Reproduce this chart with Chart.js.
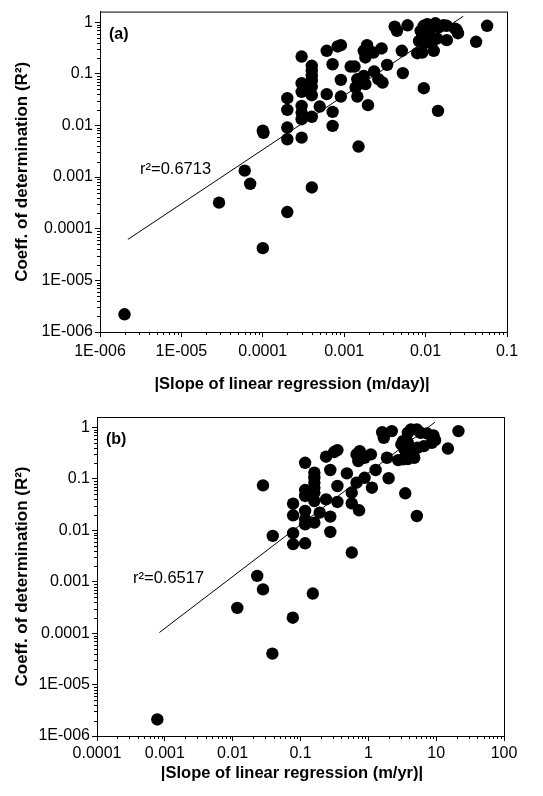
<!DOCTYPE html>
<html>
<head>
<meta charset="utf-8">
<script src="https://cdn.jsdelivr.net/npm/chart.js@4"></script>
<style>
  body { margin: 0; background: #fff; }
  canvas { position: absolute; left: 0; }
</style>
</head>
<body>
<canvas id="chartA" width="543" height="398" style="top:0"></canvas>
<canvas id="chartB" width="543" height="398" style="top:398px"></canvas>
<script>
// panel (a): |slope| in m/day vs R2
const slopeDay = [2.0e-6, 1.0e-4, 2.0e-4, 2.9e-5, 7.0e-5, 6.0e-5, 4.0e-4, 1.5e-3, 1.0e-4, 1.02e-4,
  2.0e-4, 2.0e-4, 2.0e-4, 2.0e-4, 3.0e-4, 3.0e-4, 3.0e-4, 3.0e-4, 3.0e-4, 3.0e-4,
  3.0e-4, 4.0e-4, 4.0e-4, 4.0e-4, 4.0e-4, 4.0e-4, 4.0e-4, 4.0e-4, 5.0e-4, 6.1e-4,
  6.1e-4, 7.2e-4, 7.2e-4, 7.2e-4, 8.3e-4, 9.1e-4, 9.1e-4, 9.1e-4, 1.2e-3, 1.34e-3,
  1.45e-3, 1.38e-3, 1.45e-3, 1.74e-3, 1.82e-3, 1.96e-3, 1.91e-3, 1.74e-3, 1.82e-3, 2.29e-3,
  2.88e-3, 2.33e-3, 2.63e-3, 2.96e-3, 3.37e-3, 4.17e-3, 4.45e-3, 6.0e-3, 5.1e-3, 5.25e-3,
  7.9e-3, 9.1e-3, 9.5e-3, 0.0126, 0.0142, 0.0182, 0.0417, 0.057, 8.7e-3, 9.1e-3,
  9.5e-3, 0.0105, 0.011, 0.012, 0.0132, 0.0145, 0.0166, 0.0182, 0.023, 0.025,
  0.024, 8.3e-3, 0.010, 0.012, 0.0138];
const r2Day = [2.2e-6, 4.2e-5, 2.1e-4, 3.2e-4, 7.4e-4, 1.33e-3, 6.3e-4, 3.9e-3, 7.9e-3, 7.2e-3,
  9.1e-3, 5.4e-3, 0.020, 0.0337, 5.8e-3, 0.0132, 0.0177, 0.0239, 0.0447, 0.0658,
  0.216, 0.0147, 0.0385, 0.0566, 0.073, 0.091, 0.114, 0.143, 0.0232, 0.0403,
  0.279, 9.8e-3, 0.0183, 0.153, 0.338, 0.358, 0.0763, 0.0363, 0.138, 0.138,
  0.0786, 0.054, 0.0363, 0.091, 0.063, 0.0247, 0.358, 0.279, 0.207, 0.258,
  0.309, 0.111, 0.0786, 0.0677, 0.149, 0.82, 0.68, 0.87, 0.279, 0.103,
  0.25, 0.258, 0.0526, 0.279, 0.0191, 0.448, 0.416, 0.85, 0.68, 0.54,
  0.85, 0.91, 0.63, 0.50, 0.95, 0.79, 0.87, 0.85, 0.75, 0.61,
  0.71, 0.43, 0.40, 0.40, 0.48];
const fitDayX = [2.2e-6, 0.029];
const fitDayY = [6.2e-5, 1.3];

// panel (b): |slope| in m/yr vs R2
const slopeYr = [7.75e-4, 0.0117, 0.028, 0.023, 0.077, 0.152, 0.0385, 0.028, 0.039, 0.0778,
  0.0778, 0.0778, 0.0778, 0.117, 0.117, 0.16, 0.16, 0.16, 0.16, 0.16,
  0.117, 0.117, 0.16, 0.117, 0.117, 0.117, 0.16, 0.192, 0.238, 0.275,
  0.238, 0.313, 0.35, 0.275, 0.275, 0.35, 0.35, 0.483, 0.569, 0.569,
  0.67, 0.73, 0.88, 0.67, 0.746, 0.71, 0.88, 1.09, 1.13, 1.28,
  1.88, 1.99, 3.5, 5.19, 0.57, 1.6, 1.69, 2.22, 2.75, 3.24,
  3.82, 4.75, 3.24, 3.82, 4.26, 5.18, 5.9, 7.33, 9.12, 9.62,
  8.63, 6.58, 5.29, 4.26, 3.42, 3.07, 3.82, 14.9, 21.3];
const r2Yr = [2.1e-6, 3.1e-4, 7.1e-4, 1.3e-3, 2.0e-4, 5.9e-4, 4.0e-5, 0.075, 0.0078, 0.033,
  0.0196, 8.8e-3, 5.4e-3, 5.6e-3, 0.206, 0.132, 0.105, 0.0845, 0.0675, 0.054,
  0.0608, 0.0466, 0.0372, 0.0238, 0.0164, 0.0131, 0.0141, 0.0221, 0.040, 0.149,
  0.27, 0.333, 0.363, 0.0185, 9.3e-3, 0.0728, 0.0356, 0.128, 0.054, 0.0335,
  0.0844, 0.0245, 0.105, 0.30, 0.347, 0.222, 0.258, 0.30, 0.0675, 0.149,
  0.258, 0.103, 0.0525, 0.019, 0.0037, 0.81, 0.63, 0.85, 0.232, 0.24,
  0.243, 0.258, 0.543, 0.79, 0.914, 0.914, 0.79, 0.766, 0.70, 0.568,
  0.505, 0.434, 0.403, 0.375, 0.375, 0.468, 0.505, 0.39, 0.85];
const fitYrX = [8.3e-4, 9.6];
const fitYrY = [1.03e-4, 1.27];

// axis ticks
const r2Ticks = [1e-6, 1e-5, 1e-4, 1e-3, 0.01, 0.1, 1];
const r2TickLabels = ['1E-006', '1E-005', '0.0001', '0.001', '0.01', '0.1', '1'];
const dayTicks = [1e-6, 1e-5, 1e-4, 1e-3, 0.01, 0.1];
const dayTickLabels = ['1E-006', '1E-005', '0.0001', '0.001', '0.01', '0.1'];
const yrTicks = [1e-4, 1e-3, 0.01, 0.1, 1, 10, 100];
const yrTickLabels = ['0.0001', '0.001', '0.01', '0.1', '1', '10', '100'];

const FONT = '"Liberation Sans", Arial, sans-serif';
Chart.defaults.font.family = FONT;
Chart.defaults.color = '#000';

const pts = (xs, ys) => xs.map((x, i) => ({ x: x, y: ys[i] }));

// frame box, minor log ticks, x title and the in-plot texts
const frameTicks = {
  id: 'frameTicks',
  afterDraw(chart, args, opts) {
    const { ctx, chartArea: a, scales: { x, y } } = chart;
    ctx.save();
    ctx.strokeStyle = '#000';
    ctx.lineWidth = 1;
    ctx.strokeRect(a.left + 0.5, a.top + 0.5, a.right - a.left, a.bottom - a.top);
    ctx.beginPath();
    for (let d = Math.round(Math.log10(x.min)); d < Math.round(Math.log10(x.max)); d++) {
      for (let k = 2; k < 10; k++) {
        const px = Math.round(x.getPixelForValue(k * Math.pow(10, d))) + 0.5;
        ctx.moveTo(px, a.bottom);
        ctx.lineTo(px, a.bottom + 3);
      }
    }
    for (let d = Math.round(Math.log10(y.min)); d < 0; d++) {
      for (let k = 2; k < 10; k++) {
        const py = Math.round(y.getPixelForValue(k * Math.pow(10, d))) + 0.5;
        ctx.moveTo(a.left, py);
        ctx.lineTo(a.left - 3, py);
      }
    }
    ctx.stroke();
    ctx.fillStyle = '#000';
    ctx.textBaseline = 'alphabetic';
    ctx.font = 'bold 16px ' + FONT;
    ctx.fillText(opts.panel, a.left + 9, a.top + 27);
    ctx.font = '16.5px ' + FONT;
    ctx.fillText(opts.r2, a.left + opts.r2At[0], a.top + opts.r2At[1]);
    ctx.font = 'bold 16.5px ' + FONT;
    ctx.textAlign = 'center';
    ctx.textBaseline = 'middle';
    ctx.fillText(opts.xTitle, opts.xTitleAt[0], opts.xTitleAt[1]);
    ctx.restore();
  }
};

function makeChart(id, xs, ys, fitX, fitY, xTicks, xLabels, xTitle, geo, panel, r2, r2At) {
  return new Chart(document.getElementById(id), {
    type: 'scatter',
    data: {
      datasets: [
        {
          data: pts(xs, ys),
          backgroundColor: '#000',
          borderWidth: 0,
          pointRadius: 6.2,
        },
        {
          data: pts(fitX, fitY),
          showLine: true,
          borderColor: '#000',
          borderWidth: 1,
          pointRadius: 0,
        },
      ],
    },
    options: {
      responsive: false,
      animation: false,
      layout: { padding: { top: geo.top, right: geo.right, left: 0, bottom: 0 } },
      plugins: {
        legend: { display: false },
        tooltip: { enabled: false },
        frameTicks: { panel: panel, r2: r2, r2At: r2At, xTitle: xTitle, xTitleAt: geo.xt },
      },
      scales: {
        x: {
          type: 'logarithmic',
          min: xTicks[0],
          max: xTicks[xTicks.length - 1],
          afterBuildTicks: s => { s.ticks = xTicks.map(v => ({ value: v })); },
          afterFit: s => { s.height = geo.xh; },
          border: { color: '#000', width: 1 },
          grid: { drawOnChartArea: false, color: '#000', tickLength: 5 },
          ticks: {
            autoSkip: false, maxRotation: 0, padding: geo.xpad,
            font: { size: 16 },
            callback: (v, i) => xLabels[i],
          },
        },
        y: {
          type: 'logarithmic',
          min: 1e-6,
          max: 1.6,
          afterBuildTicks: s => { s.ticks = r2Ticks.map(v => ({ value: v })); },
          afterFit: s => { s.width = geo.left; },
          border: { color: '#000', width: 1 },
          grid: { drawOnChartArea: false, color: '#000', tickLength: 5 },
          ticks: {
            autoSkip: false, padding: 2,
            font: { size: 16 },
            callback: (v, i) => r2TickLabels[i],
          },
          title: {
            display: true, text: 'Coeff. of determination (R\u00b2)',
            font: { size: 17, weight: 'bold' },
            padding: { top: 12, bottom: 0 },
          },
        },
      },
    },
    plugins: [frameTicks],
  });
}

makeChart('chartA', slopeDay, r2Day, fitDayX, fitDayY, dayTicks, dayTickLabels,
  '|Slope of linear regression (m/day)|',
  { top: 10, right: 36, left: 100, xh: 66, xpad: 5, xt: [292, 384] },
  '(a)', 'r\u00b2=0.6713', [40, 162]);

makeChart('chartB', slopeYr, r2Yr, fitYrX, fitYrY, yrTicks, yrTickLabels,
  '|Slope of linear regression (m/yr)|',
  { top: 19, right: 39, left: 97, xh: 60, xpad: 3, xt: [292, 375] },
  '(b)', 'r\u00b2=0.6517', [36, 166]);
</script>
</body>
</html>
